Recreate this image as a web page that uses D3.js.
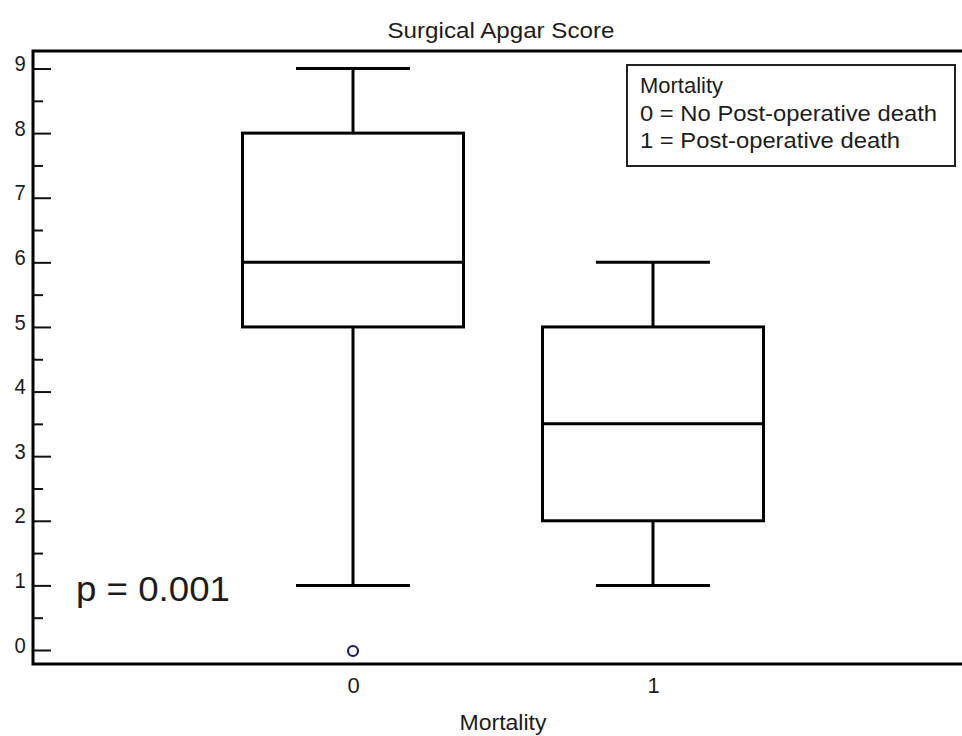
<!DOCTYPE html>
<html>
<head>
<meta charset="utf-8">
<script src="https://cdn.jsdelivr.net/npm/d3@7"></script>
<style>
  html, body { margin: 0; padding: 0; background: #fff; }
  svg { display: block; }
  text { font-family: "Liberation Sans", Arial, sans-serif; fill: #1c1c1c; }
</style>
</head>
<body>
<svg id="chart" width="962" height="736"></svg>
<script>
// Group labels on the x axis
const categories = ["0", "1"];
// Five-number summaries per group
const whiskerLow  = [1, 1];
const quartile1   = [5, 2];
const medians     = [6, 3.5];
const quartile3   = [8, 5];
const whiskerHigh = [9, 6];
// Outside values drawn as open circles
const outlierGroup = ["0"];
const outlierValue = [0];
// Axis tick values
const yMajorTicks = [0, 1, 2, 3, 4, 5, 6, 7, 8, 9];
const yMinorTicks = [0.5, 1.5, 2.5, 3.5, 4.5, 5.5, 6.5, 7.5, 8.5];

const title = "Surgical Apgar Score";
const xTitle = "Mortality";
const legendLines = ["Mortality", "0 = No Post-operative death", "1 = Post-operative death"];
const pText = "p = 0.001";

const svg = d3.select("#chart");

const frame = { left: 33, top: 51, right: 966, bottom: 664 };

const y = d3.scaleLinear().domain([0, 9]).range([650, 68.5]);
const x = d3.scalePoint().domain(categories).range([353, 653]);

const boxHalf = 110.5;
const capHalf = 57;

// Title
svg.append("text")
  .attr("x", 501).attr("y", 38)
  .attr("text-anchor", "middle")
  .attr("font-size", 22)
  .attr("textLength", 227).attr("lengthAdjust", "spacingAndGlyphs")
  .text(title);

// Major y ticks (pointing inward) with labels on the outside
const yAxis = d3.axisLeft(y)
  .tickValues(yMajorTicks)
  .tickFormat(d3.format("d"))
  .tickSizeInner(-18).tickSizeOuter(0).tickPadding(8);
const gy = svg.append("g").attr("transform", `translate(${frame.left},0)`).call(yAxis);
gy.select(".domain").remove();
gy.selectAll(".tick line").attr("stroke", "#111").attr("stroke-width", 2);
gy.selectAll(".tick text")
  .attr("font-size", 22).attr("font-family", "Liberation Sans, Arial, sans-serif")
  .attr("fill", "#222").attr("dy", "0.1em")
  .attr("transform", "scale(0.92,1)");

// Minor y ticks
const yMinor = d3.axisLeft(y).tickValues(yMinorTicks).tickFormat("").tickSizeInner(-10).tickSizeOuter(0);
const gm = svg.append("g").attr("transform", `translate(${frame.left},0)`).call(yMinor);
gm.select(".domain").remove();
gm.selectAll(".tick line").attr("stroke", "#111").attr("stroke-width", 2);

// X axis labels (no tick marks)
const xAxis = d3.axisBottom(x).tickSize(0).tickPadding(13);
const gx = svg.append("g").attr("transform", `translate(0,${frame.bottom})`).call(xAxis);
gx.select(".domain").remove();
gx.selectAll(".tick text")
  .attr("font-size", 22).attr("font-family", "Liberation Sans, Arial, sans-serif")
  .attr("fill", "#222");

// Plot frame: left, top and bottom lines
svg.append("path")
  .attr("d", `M${frame.right},${frame.top} H${frame.left} V${frame.bottom} H${frame.right}`)
  .attr("fill", "none").attr("stroke", "#000").attr("stroke-width", 3);

// Boxes and whiskers
const groups = categories.map((c, i) => ({
  cat: c, lo: whiskerLow[i], q1: quartile1[i], med: medians[i], q3: quartile3[i], hi: whiskerHigh[i]
}));

const g = svg.append("g").attr("stroke", "#000").attr("stroke-width", 3).attr("fill", "none");
groups.forEach(d => {
  const cx = x(d.cat);
  // whiskers
  g.append("line").attr("x1", cx).attr("x2", cx).attr("y1", y(d.q3)).attr("y2", y(d.hi));
  g.append("line").attr("x1", cx).attr("x2", cx).attr("y1", y(d.q1)).attr("y2", y(d.lo));
  // caps
  g.append("line").attr("x1", cx - capHalf).attr("x2", cx + capHalf).attr("y1", y(d.hi)).attr("y2", y(d.hi));
  g.append("line").attr("x1", cx - capHalf).attr("x2", cx + capHalf).attr("y1", y(d.lo)).attr("y2", y(d.lo));
  // box
  g.append("rect")
    .attr("x", cx - boxHalf).attr("width", boxHalf * 2)
    .attr("y", y(d.q3)).attr("height", y(d.q1) - y(d.q3));
  // median
  g.append("line").attr("x1", cx - boxHalf).attr("x2", cx + boxHalf).attr("y1", y(d.med)).attr("y2", y(d.med));
});

// Outliers
svg.append("g").selectAll("circle")
  .data(outlierValue.map((v, i) => ({ cat: outlierGroup[i], v })))
  .join("circle")
  .attr("cx", d => x(d.cat)).attr("cy", d => y(d.v) + 1)
  .attr("r", 5)
  .attr("fill", "none").attr("stroke", "#1c1c6a").attr("stroke-width", 2.2);

// Legend box
const legend = svg.append("g");
legend.append("rect")
  .attr("x", 627).attr("y", 65).attr("width", 328).attr("height", 101)
  .attr("fill", "#fff").attr("stroke", "#222").attr("stroke-width", 2);
const legendWidths = [83, 297, 260];
legend.selectAll("text")
  .data(legendLines)
  .join("text")
  .attr("x", 640)
  .attr("y", (d, i) => 93 + i * 27.5)
  .attr("font-size", 22)
  .attr("textLength", (d, i) => legendWidths[i]).attr("lengthAdjust", "spacingAndGlyphs")
  .text(d => d);

// Axis title
svg.append("text")
  .attr("x", 503).attr("y", 730)
  .attr("text-anchor", "middle")
  .attr("font-size", 22)
  .attr("textLength", 87).attr("lengthAdjust", "spacingAndGlyphs")
  .text(xTitle);

// p-value annotation
svg.append("text")
  .attr("x", 76).attr("y", 601)
  .attr("font-family", "'Open Sans', Lato, sans-serif")
  .attr("font-size", 35)
  .attr("textLength", 154).attr("lengthAdjust", "spacingAndGlyphs")
  .attr("fill", "#1a1a1a")
  .text(pText);
</script>
</body>
</html>
